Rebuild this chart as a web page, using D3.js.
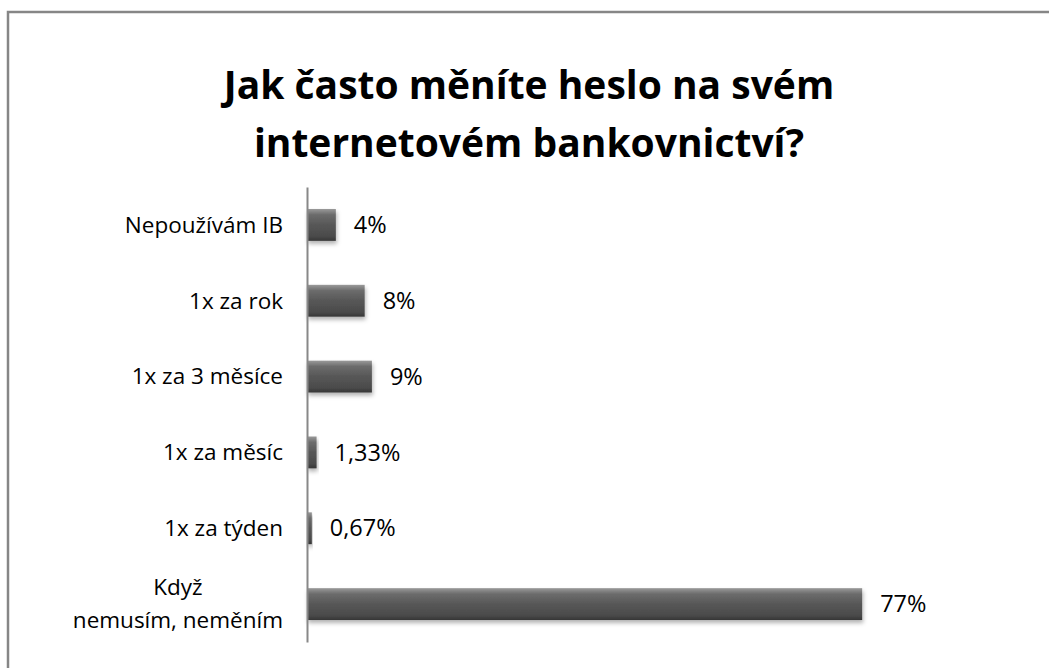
<!DOCTYPE html>
<html>
<head>
<meta charset="utf-8">
<script src="https://cdn.jsdelivr.net/npm/d3@7"></script>
<style>
  body { margin: 0; background: #fff; }
  text { font-family: "Open Sans", sans-serif; fill: #000; }
</style>
</head>
<body>
<div id="chart"></div>
<script>
// data
const categories = ['Nepoužívám IB', '1x za rok', '1x za 3 měsíce', '1x za měsíc', '1x za týden', 'Když nemusím, neměním'];
const categoryLines = [['Nepoužívám IB'], ['1x za rok'], ['1x za 3 měsíce'], ['1x za měsíc'], ['1x za týden'], ['Když', 'nemusím, neměním']];
const values = [4, 8, 9, 1.33, 0.67, 77];
const valueLabels = ['4%', '8%', '9%', '1,33%', '0,67%', '77%'];
const titleLines = ['Jak často měníte heslo na svém', 'internetovém bankovnictví?'];

const W = 1049, H = 668;
const svg = d3.select('#chart').append('svg').attr('width', W).attr('height', H);

const defs = svg.append('defs');
const grad = defs.append('linearGradient').attr('id', 'barGrad')
    .attr('x1', 0).attr('y1', 0).attr('x2', 0).attr('y2', 1);
[[0, '#9a9a9a'], [0.18, '#6c6c6c'], [0.5, '#575757'], [0.85, '#4b4b4b'], [1, '#363636']]
    .forEach(s => grad.append('stop').attr('offset', s[0]).attr('stop-color', s[1]));
const shadow = defs.append('filter').attr('id', 'shadow')
    .attr('x', '-10%').attr('y', '-20%').attr('width', '130%').attr('height', '160%');
shadow.append('feDropShadow').attr('dx', 1).attr('dy', 3).attr('stdDeviation', 2)
    .attr('flood-color', '#000').attr('flood-opacity', 0.3);

svg.append('rect').attr('width', W).attr('height', H).attr('fill', '#fff');

// chart border
svg.append('rect')
    .attr('x', 8).attr('y', 12).attr('width', W + 20).attr('height', H + 20)
    .attr('fill', 'none').attr('stroke', '#868686').attr('stroke-width', 2.5);

// title
svg.append('g').selectAll('text').data(titleLines).enter().append('text')
    .attr('x', 529).attr('y', (d, i) => 99 + i * 58)
    .attr('text-anchor', 'middle')
    .style('font-size', '39px').style('font-weight', 'bold')
    .text(d => d);

// scales
const x = d3.scaleLinear().domain([0, 100]).range([307, 1028]);
const y = d3.scaleBand().domain(categories).range([187, 642]).paddingInner(0.58).paddingOuter(0.29);

// bars
svg.append('g').selectAll('rect').data(values).enter().append('rect')
    .attr('x', x(0))
    .attr('y', (d, i) => y(categories[i]))
    .attr('width', d => x(d) - x(0))
    .attr('height', y.bandwidth())
    .attr('fill', 'url(#barGrad)')
    .attr('filter', 'url(#shadow)');

// axis line
const yAxis = d3.axisLeft(y).tickSize(0).tickFormat('');
const axisG = svg.append('g').attr('transform', 'translate(' + x(0) + ',0)').call(yAxis);
axisG.select('.domain').attr('stroke', '#888').attr('stroke-width', 2);

// category labels
const labels = svg.append('g').selectAll('text').data(categories).enter().append('text')
    .attr('text-anchor', 'middle')
    .style('font-size', '22.5px');
labels.each(function (d, i) {
    const t = d3.select(this);
    const lines = categoryLines[i];
    const cy = y(d) + y.bandwidth() / 2;
    const lh = 33;
    lines.forEach((ln, j) => {
        t.append('tspan').attr('y', cy + (j - (lines.length - 1) / 2) * lh).attr('dy', '0.35em').text(ln);
    });
    let maxW = 0;
    t.selectAll('tspan').each(function () { maxW = Math.max(maxW, this.getComputedTextLength()); });
    t.selectAll('tspan').attr('x', 283 - maxW / 2);
});

// value labels
svg.append('g').selectAll('text').data(values).enter().append('text')
    .attr('x', d => x(d) + 18)
    .attr('y', (d, i) => y(categories[i]) + y.bandwidth() / 2)
    .attr('dy', '0.35em')
    .style('font-size', '23.5px')
    .text((d, i) => valueLabels[i]);
</script>
</body>
</html>
